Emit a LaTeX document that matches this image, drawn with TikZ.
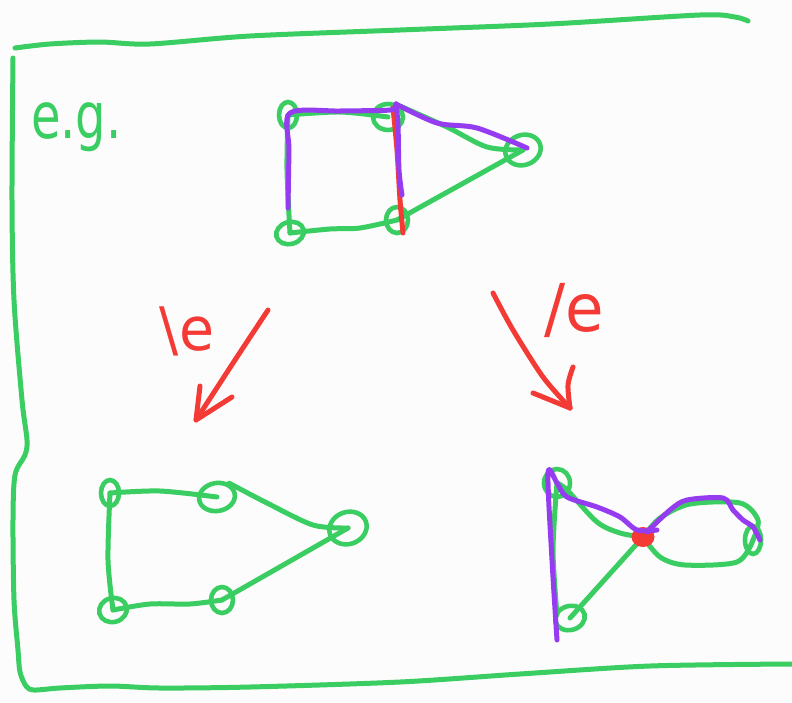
\documentclass[tikz,border=0pt]{standalone}
\usepackage{fontspec}
\newfontfamily\lblfont{DejaVu Sans}
\usetikzlibrary{shapes.geometric}
\definecolor{pg}{RGB}{58,205,98}
\definecolor{pp}{RGB}{150,60,240}
\definecolor{pr}{RGB}{244,58,52}
\definecolor{bgc}{RGB}{252,252,252}
\begin{document}
\begin{tikzpicture}[x=1pt,y=-1pt,
  pen/.style={line width=5pt,line cap=round,line join=round},
  gpen/.style={pen,draw=pg},
  ppen/.style={pen,draw=pp},
  rpen/.style={pen,draw=pr},
  vtx/.style={ellipse,draw=pg,line width=4.6pt,inner sep=0pt},
  lbl/.style={inner sep=0pt}
]
\fill[bgc] (0,0) rectangle (792,702);
\useasboundingbox (0,0) rectangle (792,702);

% frame
\draw[gpen] plot[smooth] coordinates {(15,48) (50,44) (100,42) (150,44) (250,36) (400,30) (550,24) (700,15) (735,17) (748,21)};
\draw[gpen] plot[smooth] coordinates {(13,58) (12,200) (14,300) (22,400) (27,440) (25,455) (15,475) (13,520) (14,600) (18,650) (20,672) (26,686) (34,690) (60,688) (110,686) (160,688) (250,687) (400,682) (520,674) (650,666) (792,664)};

% e.g.
\node[lbl,text=pg,font=\lblfont\fontsize{64}{64}\selectfont,xscale=0.75,anchor=base west] (eg) at (31,138) {e.g.};

% top graph
\node[vtx,minimum width=18pt,minimum height=26pt] (tA) at (288,115) {};
\node[vtx,minimum width=30pt,minimum height=26pt] (tB) at (388,117) {};
\node[vtx,minimum width=36pt,minimum height=30pt,rotate=20] (tC) at (523,150) {};
\node[vtx,minimum width=28pt,minimum height=22pt,rotate=15] (tD) at (290,233) {};
\node[vtx,minimum width=22pt,minimum height=26pt] (tE) at (397,220) {};
\draw[gpen] plot[smooth] coordinates {(tA.center) (340,112) (tB.center)};
\draw[gpen] plot[smooth] coordinates {(tA.center) (287,170) (tD.center)};
\draw[gpen] plot[smooth] coordinates {(tD.center) (330,229) (360,228) (tE.center)};
\draw[gpen] plot[smooth] coordinates {(tB.north east) (447,127) (487,147) (tC.center)};
\draw[gpen] (tE.center) -- (tC.center);
\coordinate (rb1) at (393,108);
\coordinate (rb2) at (403,233);
\draw[rpen] plot[smooth] coordinates {(rb1) (397,150) (400,200) (rb2)};
\coordinate (pa) at (288,208);
\coordinate (pb) at (396,104);
\coordinate (pc) at (402,195);
\coordinate (pd) at (527,148);
\draw[ppen] plot[smooth] coordinates {(pa) (289,150) (290,113) (340,111) (390,110) (pb)};
\draw[ppen] plot[smooth] coordinates {(pb) (398,125) (399,170) (pc)};
\draw[ppen] plot[smooth] coordinates {(pb) (437,123) (477,128) (pd)};

% arrows
\coordinate (la1) at (268,310);
\coordinate (la2) at (196,420);
\coordinate (lh1) at (200,386);
\coordinate (lh2) at (232,397);
\draw[rpen] plot[smooth] coordinates {(la1) (235,360) (la2)};
\draw[rpen] (lh1) -- (la2) -- (lh2);
\node[lbl,text=pr,font=\lblfont\fontsize{60}{60}\selectfont,xscale=0.95] (le1) at (187,331) {\textbackslash e};

\coordinate (ra1) at (493,293);
\coordinate (ra2) at (570,408);
\coordinate (rh1) at (533,393);
\coordinate (rh2) at (573,367);
\draw[rpen] plot[smooth] coordinates {(ra1) (513,330) (543,377) (ra2)};
\draw[rpen] (rh1) -- (ra2);
\draw[rpen] plot[smooth] coordinates {(rh2) (568,385) (ra2)};
\node[lbl,text=pr,font=\lblfont\fontsize{66}{66}\selectfont,xscale=0.95] (le2) at (574,310) {/e};

% bottom-left graph
\node[vtx,minimum width=18pt,minimum height=26pt] (lA) at (110,493) {};
\node[vtx,minimum width=36pt,minimum height=28pt,rotate=10] (lB) at (217,497) {};
\node[vtx,minimum width=38pt,minimum height=32pt,rotate=20] (lC) at (348,528) {};
\node[vtx,minimum width=28pt,minimum height=24pt,rotate=15] (lD) at (113,610) {};
\node[vtx,minimum width=22pt,minimum height=26pt] (lE) at (222,600) {};
\draw[gpen] plot[smooth] coordinates {(lA.center) (160,491) (lB.center)};
\draw[gpen] plot[smooth] coordinates {(lB.north east) (267,503) (313,525) (lC.center)};
\draw[gpen] plot[smooth] coordinates {(lA.center) (108,560) (lD.center)};
\draw[gpen] plot[smooth] coordinates {(lD.center) (150,604) (190,604) (lE.center)};
\draw[gpen] (lE.center) -- (lC.center);

% bottom-right graph
\node[vtx,minimum width=26pt,minimum height=28pt] (rP) at (557,483) {};
\node[vtx,minimum width=30pt,minimum height=24pt,rotate=15] (rR) at (570,618) {};
\node[vtx,minimum width=16pt,minimum height=28pt] (rS) at (753,540) {};
\coordinate (rQc) at (643,537);
\draw[gpen] plot[smooth] coordinates {(rP.center) (553,550) (557,615)};
\draw[gpen] plot[smooth] coordinates {(rP.center) (567,490) (597,522) (620,533) (rQc)};
\draw[gpen] (rR.center) -- (rQc);
\draw[gpen] plot[smooth] coordinates {(rQc) (660,518) (690,504) (740,503) (758,520) (rS.center)};
\draw[gpen] plot[smooth] coordinates {(rQc) (660,557) (685,565) (737,562) (rS.center)};
\node[ellipse,fill=pr,minimum width=23pt,minimum height=20pt,inner sep=0pt] (rQ) at (rQc) {};
\draw[ppen] plot[smooth] coordinates {(557,640) (552,560) (548,473) (557,483) (567,497) (597,507) (620,517) (637,530) (657,530)};
\draw[ppen] plot[smooth] coordinates {(647,532) (670,510) (687,500) (723,498) (733,510) (743,520) (753,527) (760,540)};
\end{tikzpicture}
\end{document}
